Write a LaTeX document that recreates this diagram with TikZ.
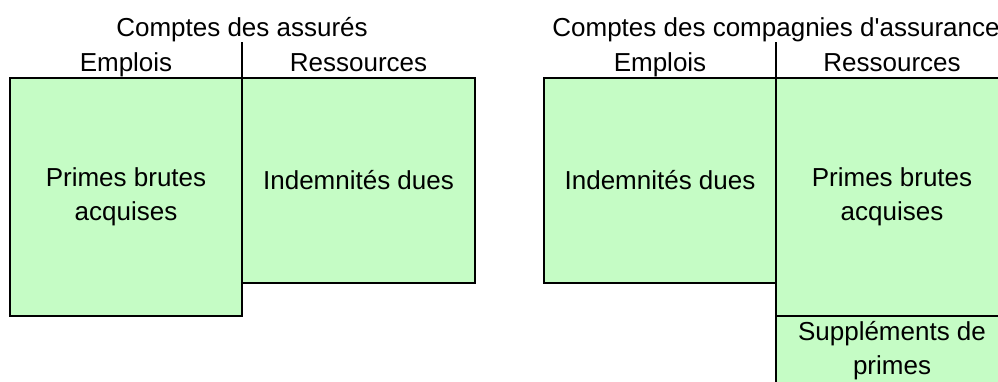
\documentclass[tikz,border=0pt]{standalone}
\usepackage{fontspec}
\setmainfont{Liberation Sans}
\usepackage{tikz}
\usetikzlibrary{positioning}
\definecolor{vertclair}{RGB}{197,252,197}

\tikzset{
    poste/.style={draw=black, line width=1.6pt, fill=vertclair, outer sep=0pt,
        inner sep=2pt, align=center, minimum width=232pt,
        font=\fontsize{26}{34}\selectfont},
    entete/.style={inner sep=0pt, font=\fontsize{26}{34}\selectfont},
    separation/.style={draw=black, line width=1.2pt}
}

\begin{document}
\begin{tikzpicture}[x=1pt,y=-1pt]
    \clip (0,0) rectangle (998,381);

    % comptes des assures
    \node[poste, minimum height=238pt, anchor=north west] (primesA) at (10,78) {Primes brutes\\acquises};
    \node[poste, minimum height=205pt, minimum width=233pt, right=0pt of primesA.north east, anchor=north west] (indemA) {Indemnités dues};
    \node[entete, above=7pt of primesA.north, anchor=base] (emploisA) {Emplois};
    \node[entete, above=7pt of indemA.north, anchor=base] (ressA) {Ressources};
    \node[entete, above=42pt of primesA.north east, anchor=base] (titreA) {Comptes des assurés};
    \draw[separation] (primesA.north east) -- (titreA.south);

    % comptes des compagnies
    \node[poste, minimum height=205pt, anchor=north west] (indemB) at (544,78) {Indemnités dues};
    \node[poste, minimum height=238pt, right=0pt of indemB.north east, anchor=north west] (primesB) {Primes brutes\\acquises};
    \node[poste, minimum height=70pt, below=0pt of primesB.south, anchor=north] (supplB) {Suppléments de\\primes};
    \node[entete, above=7pt of indemB.north, anchor=base] (emploisB) {Emplois};
    \node[entete, above=7pt of primesB.north, anchor=base] (ressB) {Ressources};
    \node[entete, above=42pt of indemB.north east, anchor=base] (titreB) {Comptes des compagnies d\textquotesingle assurance};
    \draw[separation] (indemB.north east) -- (titreB.south);
\end{tikzpicture}
\end{document}
